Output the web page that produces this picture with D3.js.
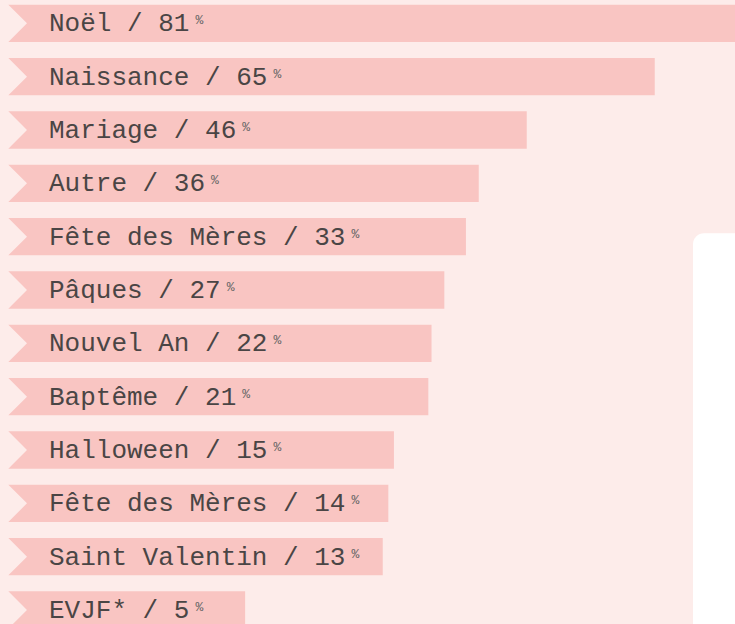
<!DOCTYPE html>
<html lang="fr">
<head>
    <meta charset="UTF-8">
    <title>Occasions</title>
    <script src="https://cdnjs.cloudflare.com/ajax/libs/d3/7.8.5/d3.min.js"></script>
    <style>
        html, body { margin: 0; padding: 0; background: #fdecea; overflow: hidden; }
    </style>
</head>
<body>
    <div id="wrapper"></div>
    <script>
        // données
        const occasions = ['Noël', 'Naissance', 'Mariage', 'Autre', 'Fête des Mères', 'Pâques',
            'Nouvel An', 'Baptême', 'Halloween', 'Fête des Mères', 'Saint Valentin', 'EVJF*']
        const percents = [81, 65, 46, 36, 33, 27, 22, 21, 15, 14, 13, 5]
        // longueur relative des barres (0-100), estimée sur l'image
        const barScores = [92, 80.8, 64.8, 58.8, 57.2, 54.5, 52.9, 52.5, 48.2, 47.5, 46.8, 29.6]

        const dataset = occasions.map((name, i) => ({
            key: i,
            name: name,
            percent: percents[i],
            score: barScores[i],
        }))

        const dimensions = { width: 735, height: 624 }

        const wrapper = d3.select('#wrapper')
            .append('svg')
                .attr('width', dimensions.width)
                .attr('height', dimensions.height)
                .style('display', 'block')
                .style('background', '#fdecea')

        // panneau blanc à droite
        wrapper.append('rect')
            .attr('x', 693)
            .attr('y', 233.3)
            .attr('width', 120)
            .attr('height', 500)
            .attr('rx', 11)
            .attr('fill', '#ffffff')

        const xScale = d3.scaleLinear()
            .domain([0, 100])
            .range([8.33, 808.33])

        const yScale = d3.scaleBand()
            .domain(dataset.map(d => d.key))
            .range([4.67, 4.67 + 53.33 * 11.7])
            .paddingInner(0.3)
            .paddingOuter(0)

        const h = yScale.bandwidth()

        const bars = wrapper.append('g')
            .selectAll('g')
            .data(dataset)
            .join('g')
                .attr('transform', d => `translate(0, ${yScale(d.key)})`)

        // barre avec encoche en chevron à gauche
        bars.append('path')
            .attr('d', d => {
                const x0 = xScale(0)
                const x1 = xScale(d.score)
                return `M${x0},0 L${x1},0 L${x1},${h} L${x0},${h} L${x0 + h / 2},${h / 2} Z`
            })
            .attr('fill', '#f9c5c2')

        const labels = bars.append('text')
            .attr('x', 49)
            .attr('y', h / 2 + 8)
            .attr('fill', '#4a4545')
            .style('font-family', "'Courier New', 'Liberation Mono', monospace")
            .style('font-size', '26px')

        labels.append('tspan')
            .text(d => `${d.name} / ${d.percent}`)

        labels.append('tspan')
            .attr('dx', 6)
            .attr('dy', -7)
            .attr('fill', '#666')
            .style('font-size', '13px')
            .text('%')
    </script>
</body>
</html>
